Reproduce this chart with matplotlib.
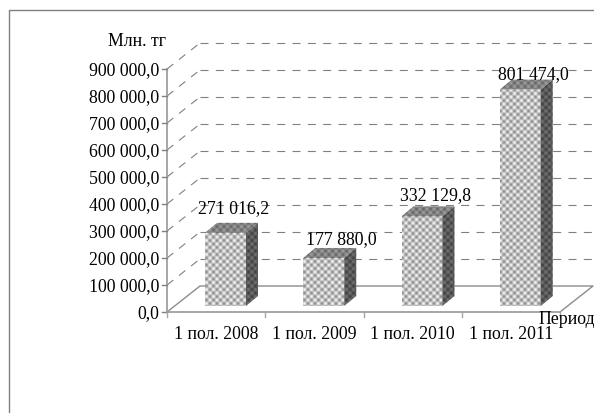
import matplotlib
matplotlib.use('Agg')
import matplotlib.pyplot as plt
import numpy as np
from matplotlib.patches import Polygon

plt.rcParams['font.family'] = ['Liberation Serif', 'DejaVu Serif']

# Data
categories = ['1 пол. 2008', '1 пол. 2009', '1 пол. 2010', '1 пол. 2011']
values = [271016.2, 177880.0, 332129.8, 801474.0]
value_labels = ['271 016,2', '177 880,0', '332 129,8', '801 474,0']
y_ticks = [0, 100000, 200000, 300000, 400000, 500000, 600000, 700000, 800000, 900000]
y_tick_labels = ['0,0', '100 000,0', '200 000,0', '300 000,0', '400 000,0',
                 '500 000,0', '600 000,0', '700 000,0', '800 000,0', '900 000,0']

# Pixel geometry of the fake 3D box
X0, Y0 = 167, 313
CAT_W = 98.25
PX_PER_UNIT = 243 / 900000
WALL_DX, WALL_DY = 33, 26
BAR_W = 41
BAR_DX, BAR_DY = 12, 10
BAR_OFF, BAR_LIFT = 38, 6
LABEL_DX = [8.5, 18, 13, 13]
LABEL_DY = [25, 19, 22, 16]

fig = plt.figure(figsize=(5.94, 4.14), dpi=100)
ax = fig.add_axes([0, 0, 1, 1])

# Fill pattern of the bars, one texture over the whole figure
px, py = np.meshgrid(np.arange(594) + 0.5, np.arange(414) + 0.5)
pattern = 0.5 + 0.5 * np.cos(2 * np.pi * px / 7) * np.cos(2 * np.pi * py / 7)


def vy(value):
    return Y0 - value * PX_PER_UNIT


def textured(points, low, high):
    # draw a bar face as the pattern clipped to a polygon
    im = ax.imshow(low + (high - low) * pattern, cmap='gray', vmin=0, vmax=1, extent=(0, 594, 414, 0),
                   aspect='auto', interpolation='nearest', zorder=3)
    patch = Polygon(points, transform=ax.transData, facecolor='none', edgecolor='none')
    ax.add_patch(patch)
    im.set_clip_path(patch)


# Outer border
ax.plot([9, 9, 594], [414, 11, 11], color='#808080', lw=1)

right = X0 + CAT_W * len(categories)

# Gridlines on the side wall and back wall
for tick in y_ticks[1:]:
    y = vy(tick)
    ax.plot([X0, X0 + WALL_DX], [y, y - WALL_DY], color='#808080', lw=0.8, dashes=(7.2, 6.6))
    ax.plot([X0 + WALL_DX, right + WALL_DX], [y - WALL_DY, y - WALL_DY],
            color='#808080', lw=0.8, dashes=(7.2, 6.6))

# Floor
ax.plot([X0, X0 + WALL_DX, right + WALL_DX, right],
        [Y0, Y0 - WALL_DY, Y0 - WALL_DY, Y0], color='#8c8c8c', lw=1)

# Axis and ticks
ax.plot([X0, X0], [vy(900000), Y0], color='#a6a6a6', lw=1.4)
ax.plot([X0, right], [Y0, Y0], color='#a6a6a6', lw=1.4)
for tick, label in zip(y_ticks, y_tick_labels):
    ax.plot([X0 - 5, X0], [vy(tick), vy(tick)], color='#808080', lw=1)
    ax.text(X0 - 7.5, vy(tick) + 1, label, ha='right', va='center', fontsize=12.8, color='black')
for i in range(len(categories) + 1):
    ax.plot([X0 + CAT_W * i] * 2, [Y0, Y0 + 5], color='#a6a6a6', lw=1)

# Bars
for i, (val, cat, lab) in enumerate(zip(values, categories, value_labels)):
    left = X0 + CAT_W * i + BAR_OFF
    bottom = Y0 - BAR_LIFT
    top = bottom - val * PX_PER_UNIT
    textured([(left, bottom), (left + BAR_W, bottom), (left + BAR_W, top), (left, top)], 0.55, 0.96)
    textured([(left + BAR_W, bottom), (left + BAR_W + BAR_DX, bottom - BAR_DY),
              (left + BAR_W + BAR_DX, top - BAR_DY), (left + BAR_W, top)], 0.25, 0.45)
    textured([(left, top), (left + BAR_W, top), (left + BAR_W + BAR_DX, top - BAR_DY),
              (left + BAR_DX, top - BAR_DY)], 0.4, 0.62)
    ax.text(X0 + CAT_W * i + CAT_W / 2, 335, cat, ha='center', va='center', fontsize=12.8, color='black')
    ax.text(left + BAR_W / 2 + LABEL_DX[i], top - LABEL_DY[i], lab, ha='center', va='center',
            fontsize=12.8, color='black', zorder=4)

ax.text(137.5, 41.5, 'Млн. тг', ha='center', va='center', fontsize=12.8, color='black')
ax.text(595, 320, 'Период', ha='right', va='center', fontsize=12.8, color='black', zorder=4)

ax.set_xlim(0, 594)
ax.set_ylim(414, 0)
ax.axis('off')

fig.savefig('out.png', dpi=100)
